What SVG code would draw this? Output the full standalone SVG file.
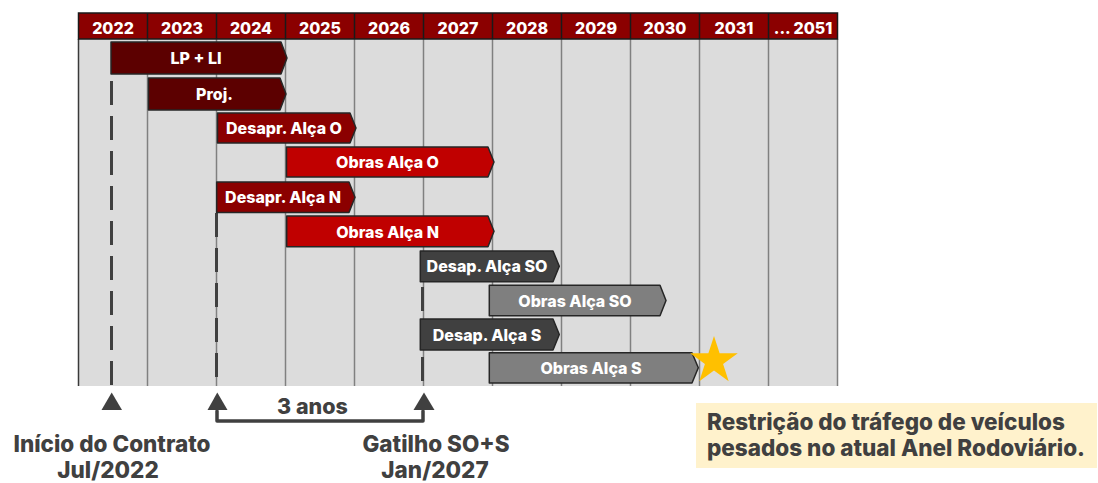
<svg xmlns="http://www.w3.org/2000/svg" width="1098" height="483" viewBox="0 0 1098 483">
<style>
text{font-family:Inter,"Liberation Sans",Arial,sans-serif;font-weight:800}
.hdr{fill:#fff;font-size:16px;text-anchor:middle}
.bt{fill:#fff;font-size:16px;text-anchor:middle}
.lbl{fill:#404040;font-size:22.5px;text-anchor:middle}
.note{fill:#404040;font-size:22.5px}
.grid{stroke:#808080;stroke-width:1.5}
.sep{stroke:#1a1a1a;stroke-width:1.5}
.dash{stroke:#404040;stroke-width:3;stroke-dasharray:24 11;fill:none}
.bar{stroke:#262626;stroke-width:1.5;stroke-linejoin:round}
.c1{fill:#5c0000}.c2{fill:#8b0000}.c3{fill:#c00000}.c4{fill:#404040}.c5{fill:#7f7f7f}
.tri{fill:#404040}
</style>
<rect width="1098" height="483" fill="#fff"/>
<g id="chart">
<rect x="78.5" y="39" width="759" height="347" fill="#dcdcdc"/>
<g class="grid">
<line x1="147.5" y1="39" x2="147.5" y2="386"/>
<line x1="216.5" y1="39" x2="216.5" y2="386"/>
<line x1="285.5" y1="39" x2="285.5" y2="386"/>
<line x1="354.5" y1="39" x2="354.5" y2="386"/>
<line x1="423.5" y1="39" x2="423.5" y2="386"/>
<line x1="492.5" y1="39" x2="492.5" y2="386"/>
<line x1="561.5" y1="39" x2="561.5" y2="386"/>
<line x1="630.5" y1="39" x2="630.5" y2="386"/>
<line x1="699.5" y1="39" x2="699.5" y2="386"/>
<line x1="768.5" y1="39" x2="768.5" y2="386"/>
<line x1="837.5" y1="39" x2="837.5" y2="386"/>
</g>
<line x1="78.5" y1="39" x2="78.5" y2="386" stroke="#3a3a3a" stroke-width="1.5"/>
</g>
<g id="header">
<rect x="78.5" y="13" width="759" height="26" fill="#8b0000" stroke="#1a1a1a" stroke-width="1.5"/>
<g class="sep">
<line x1="147.5" y1="13" x2="147.5" y2="39"/>
<line x1="216.5" y1="13" x2="216.5" y2="39"/>
<line x1="285.5" y1="13" x2="285.5" y2="39"/>
<line x1="354.5" y1="13" x2="354.5" y2="39"/>
<line x1="423.5" y1="13" x2="423.5" y2="39"/>
<line x1="492.5" y1="13" x2="492.5" y2="39"/>
<line x1="561.5" y1="13" x2="561.5" y2="39"/>
<line x1="630.5" y1="13" x2="630.5" y2="39"/>
<line x1="699.5" y1="13" x2="699.5" y2="39"/>
<line x1="768.5" y1="13" x2="768.5" y2="39"/>
</g>
<text class="hdr" x="113" y="34">2022</text>
<text class="hdr" x="182" y="34">2023</text>
<text class="hdr" x="251" y="34">2024</text>
<text class="hdr" x="320" y="34">2025</text>
<text class="hdr" x="389" y="34">2026</text>
<text class="hdr" x="458" y="34">2027</text>
<text class="hdr" x="527" y="34">2028</text>
<text class="hdr" x="596" y="34">2029</text>
<text class="hdr" x="665" y="34">2030</text>
<text class="hdr" x="734" y="34">2031</text>
<text class="hdr" x="803" y="34">... 2051</text>
</g>
<g id="connectors">
<line class="dash" x1="111.5" y1="81" x2="111.5" y2="386"/>
<line class="dash" x1="216.5" y1="213" x2="216.5" y2="386"/>
<line class="dash" x1="422.5" y1="287" x2="422.5" y2="386"/>
<path d="M217,411 V421 H423 V411" fill="none" stroke="#404040" stroke-width="3.5" stroke-linejoin="round" stroke-linecap="round"/>
</g>
<g id="bar-lpli"><path class="bar c1" d="M111,42 H281 L287,58 L281,74 H111 Z"/><text class="bt" x="196" y="64">LP + LI</text></g>
<g id="bar-proj"><path class="bar c1" d="M148.5,78 H280 L286,94 L280,110 H148.5 Z"/><text class="bt" x="214.5" y="100">Proj.</text></g>
<g id="bar-desapr-o"><path class="bar c2" d="M217.5,113 H350 L356,128 L350,143 H217.5 Z"/><text class="bt" x="284" y="134">Desapr. Alça O</text></g>
<g id="bar-obras-o"><path class="bar c3" d="M286.5,147 H488 L494,162 L488,177 H286.5 Z"/><text class="bt" x="387.5" y="168">Obras Alça O</text></g>
<g id="bar-desapr-n"><path class="bar c2" d="M216.7,182 H349 L355,197.2 L349,212.5 H216.7 Z"/><text class="bt" x="283" y="203">Desapr. Alça N</text></g>
<g id="bar-obras-n"><path class="bar c3" d="M286.7,216 H488 L494,231.3 L488,246.7 H286.7 Z"/><text class="bt" x="387.5" y="237.5">Obras Alça N</text></g>
<g id="bar-desap-so"><path class="bar c4" d="M420.3,251 H553 L559.3,266.3 L553,281.7 H420.3 Z"/><text class="bt" x="487" y="272">Desap. Alça SO</text></g>
<g id="bar-obras-so"><path class="bar c5" d="M489.3,285.3 H660 L666,300.5 L660,315.7 H489.3 Z"/><text class="bt" x="575" y="306.5">Obras Alça SO</text></g>
<g id="bar-desap-s"><path class="bar c4" d="M420.3,319 H553 L559.3,334.5 L553,350 H420.3 Z"/><text class="bt" x="487" y="340.5">Desap. Alça S</text></g>
<g id="bar-obras-s"><path class="bar c5" d="M489.3,352.7 H692 L698.3,367.8 L692,383 H489.3 Z"/><text class="bt" x="591" y="374">Obras Alça S</text></g>
<g id="star"><polygon fill="#ffc000" points="714,336 719.61,353.27 737.78,353.27 723.08,363.95 728.69,381.23 714,370.55 699.31,381.23 704.92,363.95 690.22,353.27 708.39,353.27"/></g>
<g id="marker-inicio">
<polygon class="tri" points="101.5,410 111.7,392.5 122,410"/>
<text class="lbl" x="112" y="452">Início do Contrato</text>
<text class="lbl" x="108" y="478">Jul/2022</text>
</g>
<g id="marker-2024"><polygon class="tri" points="207.5,410 217.3,392.5 227.5,410"/></g>
<g id="marker-gatilho">
<polygon class="tri" points="413.5,410 424,392.5 434.5,410"/>
<text class="lbl" x="436" y="452">Gatilho SO+S</text>
<text class="lbl" x="435" y="478">Jan/2027</text>
</g>
<g id="label-3anos"><text class="lbl" x="312.5" y="414" style="font-size:21.5px">3 anos</text></g>
<g id="note">
<rect x="696" y="403" width="401" height="65" fill="#fff2cc"/>
<text class="note" x="707" y="430">Restrição do tráfego de veículos</text>
<text class="note" x="707" y="456">pesados no atual Anel Rodoviário.</text>
</g>
</svg>
